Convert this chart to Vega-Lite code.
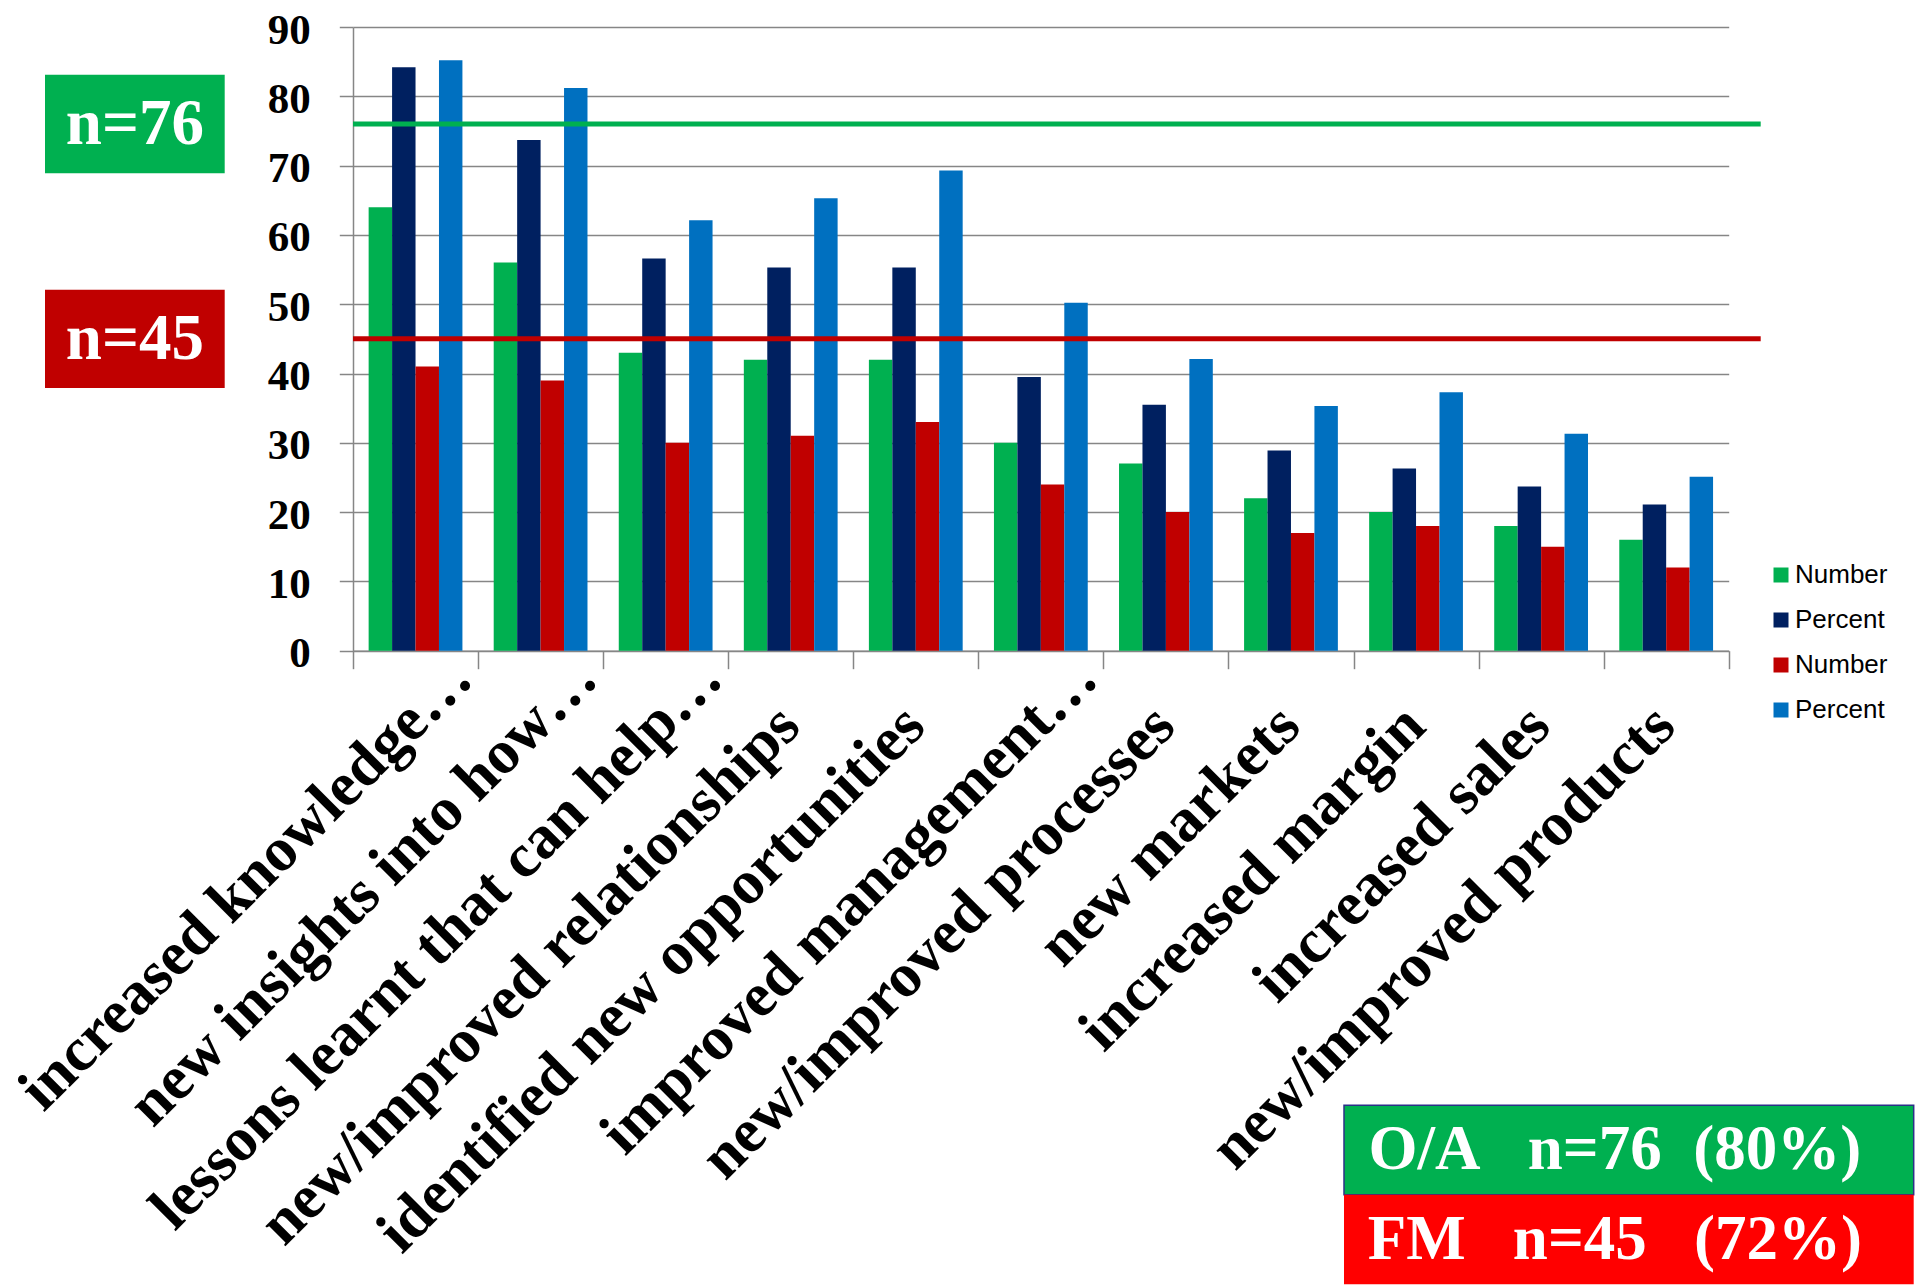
{
  "$schema": "https://vega.github.io/schema/vega-lite/v6.json",
  "background": "white",
  "padding": {"left": 7, "top": 9, "right": 0, "bottom": 0},
  "config": {
    "view": {"stroke": null},
    "font": "Liberation Serif"
  },
  "datasets": {
    "responses": [
      {"outcome": "increased knowledge…", "series": "Number (O/A)", "value": 64},
      {"outcome": "increased knowledge…", "series": "Percent (O/A)", "value": 84.2},
      {"outcome": "increased knowledge…", "series": "Number (FM)", "value": 41},
      {"outcome": "increased knowledge…", "series": "Percent (FM)", "value": 85.2},
      {"outcome": "new insights into how…", "series": "Number (O/A)", "value": 56},
      {"outcome": "new insights into how…", "series": "Percent (O/A)", "value": 73.7},
      {"outcome": "new insights into how…", "series": "Number (FM)", "value": 39},
      {"outcome": "new insights into how…", "series": "Percent (FM)", "value": 81.2},
      {"outcome": "lessons learnt that can help…", "series": "Number (O/A)", "value": 43},
      {"outcome": "lessons learnt that can help…", "series": "Percent (O/A)", "value": 56.6},
      {"outcome": "lessons learnt that can help…", "series": "Number (FM)", "value": 30},
      {"outcome": "lessons learnt that can help…", "series": "Percent (FM)", "value": 62.1},
      {"outcome": "new/improved relationships", "series": "Number (O/A)", "value": 42},
      {"outcome": "new/improved relationships", "series": "Percent (O/A)", "value": 55.3},
      {"outcome": "new/improved relationships", "series": "Number (FM)", "value": 31},
      {"outcome": "new/improved relationships", "series": "Percent (FM)", "value": 65.3},
      {"outcome": "identified new opportunities", "series": "Number (O/A)", "value": 42},
      {"outcome": "identified new opportunities", "series": "Percent (O/A)", "value": 55.3},
      {"outcome": "identified new opportunities", "series": "Number (FM)", "value": 33},
      {"outcome": "identified new opportunities", "series": "Percent (FM)", "value": 69.3},
      {"outcome": "improved management…", "series": "Number (O/A)", "value": 30},
      {"outcome": "improved management…", "series": "Percent (O/A)", "value": 39.5},
      {"outcome": "improved management…", "series": "Number (FM)", "value": 24},
      {"outcome": "improved management…", "series": "Percent (FM)", "value": 50.2},
      {"outcome": "new/improved processes", "series": "Number (O/A)", "value": 27},
      {"outcome": "new/improved processes", "series": "Percent (O/A)", "value": 35.5},
      {"outcome": "new/improved processes", "series": "Number (FM)", "value": 20},
      {"outcome": "new/improved processes", "series": "Percent (FM)", "value": 42.1},
      {"outcome": "new markets", "series": "Number (O/A)", "value": 22},
      {"outcome": "new markets", "series": "Percent (O/A)", "value": 28.9},
      {"outcome": "new markets", "series": "Number (FM)", "value": 17},
      {"outcome": "new markets", "series": "Percent (FM)", "value": 35.3},
      {"outcome": "increased margin", "series": "Number (O/A)", "value": 20},
      {"outcome": "increased margin", "series": "Percent (O/A)", "value": 26.3},
      {"outcome": "increased margin", "series": "Number (FM)", "value": 18},
      {"outcome": "increased margin", "series": "Percent (FM)", "value": 37.3},
      {"outcome": "increased sales", "series": "Number (O/A)", "value": 18},
      {"outcome": "increased sales", "series": "Percent (O/A)", "value": 23.7},
      {"outcome": "increased sales", "series": "Number (FM)", "value": 15},
      {"outcome": "increased sales", "series": "Percent (FM)", "value": 31.3},
      {"outcome": "new/improved products", "series": "Number (O/A)", "value": 16},
      {"outcome": "new/improved products", "series": "Percent (O/A)", "value": 21.1},
      {"outcome": "new/improved products", "series": "Number (FM)", "value": 12},
      {"outcome": "new/improved products", "series": "Percent (FM)", "value": 25.1}
    ],
    "samples": [
      {"group": "O/A", "n": 76, "share": 80, "tag": "n=76", "summary": "O/A\u00a0\u00a0\u00a0n=76\u00a0\u00a0(80%)"},
      {"group": "FM", "n": 45, "share": 72, "tag": "n=45", "summary": "FM\u00a0\u00a0\u00a0n=45\u00a0\u00a0\u00a0(72%)"}
    ]
  },
  "vconcat": [
    {
      "hconcat": [
        {
          "width": 179.7,
          "height": 623.7,
          "data": {"name": "samples"},
          "encoding": {
            "y": {
              "field": "n",
              "type": "quantitative",
              "scale": {"domain": [0, 90], "nice": false, "zero": true},
              "axis": null
            }
          },
          "layer": [
            {
              "mark": {
                "type": "point",
                "shape": "M-1,-0.547L1,-0.547L1,0.547L-1,0.547Z",
                "size": 32292,
                "filled": true,
                "opacity": 1,
                "strokeWidth": 0
              },
              "encoding": {
                "color": {
                  "condition": {"test": "datum.group === 'FM'", "value": "#C00000"},
                  "value": "#00B050"
                }
              }
            },
            {
              "mark": {
                "type": "text",
                "font": "Liberation Serif",
                "fontWeight": "bold",
                "fontSize": 65,
                "color": "#FFFFFF",
                "baseline": "middle",
                "align": "center"
              },
              "encoding": {"text": {"field": "tag", "type": "nominal"}}
            }
          ]
        },
        {
          "width": 1375.7,
          "height": 623.7,
          "layer": [
            {
              "data": {"name": "responses"},
              "mark": {"type": "bar"},
              "encoding": {
                "x": {
                  "field": "outcome",
                  "type": "nominal",
                  "sort": null,
                  "scale": {"paddingInner": 0, "paddingOuter": 0},
                  "axis": {
                    "title": null,
                    "domainColor": "#868686",
                    "domainWidth": 1.5,
                    "tickColor": "#868686",
                    "tickWidth": 1.5,
                    "tickSize": 18,
                    "tickBand": "extent",
                    "labelAngle": -45,
                    "labelAlign": "right",
                    "labelBaseline": "alphabetic",
                    "labelOffset": 59,
                    "labelPadding": 12.4,
                    "labelFont": "Liberation Serif",
                    "labelFontWeight": "bold",
                    "labelFontSize": 62,
                    "labelColor": "#000000",
                    "labelLimit": 3000,
                    "labelOverlap": false,
                    "labelExpr": "indexof(datum.label, '…') < 0 ? datum.label + '\u00a0\u00a0\u00a0\u00a0\u200a\u200b' : datum.label"
                  }
                },
                "xOffset": {
                  "field": "series",
                  "type": "nominal",
                  "sort": ["Number (O/A)", "Percent (O/A)", "Number (FM)", "Percent (FM)"],
                  "scale": {"paddingInner": 0, "paddingOuter": 0.667}
                },
                "y": {
                  "field": "value",
                  "type": "quantitative",
                  "scale": {"domain": [0, 90], "nice": false, "zero": true},
                  "axis": {
                    "title": null,
                    "values": [0, 10, 20, 30, 40, 50, 60, 70, 80, 90],
                    "grid": true,
                    "gridColor": "#868686",
                    "gridWidth": 1.5,
                    "domainColor": "#868686",
                    "domainWidth": 1.5,
                    "tickColor": "#868686",
                    "tickWidth": 1.5,
                    "tickSize": 13.7,
                    "labelPadding": 29,
                    "labelOffset": 3,
                    "labelFont": "Liberation Serif",
                    "labelFontWeight": "bold",
                    "labelFontSize": 43,
                    "labelColor": "#000000"
                  }
                },
                "color": {
                  "field": "series",
                  "type": "nominal",
                  "scale": {
                    "domain": ["Number (O/A)", "Percent (O/A)", "Number (FM)", "Percent (FM)"],
                    "range": ["#00B050", "#002060", "#C00000", "#0070C0"]
                  },
                  "legend": {
                    "title": null,
                    "orient": "none",
                    "legendX": 1415,
                    "legendY": 535,
                    "direction": "vertical",
                    "padding": 0,
                    "symbolType": "square",
                    "symbolSize": 225,
                    "symbolStrokeWidth": 0,
                    "labelFont": "Liberation Sans",
                    "labelFontSize": 26,
                    "labelColor": "#000000",
                    "labelOffset": 1,
                    "rowPadding": 19,
                    "labelExpr": "split(datum.label, ' ')[0]"
                  }
                }
              }
            },
            {
              "data": {"name": "samples"},
              "mark": {"type": "rule", "strokeWidth": 5, "xOffset": 32, "x2Offset": -97},
              "encoding": {
                "y": {"field": "n", "type": "quantitative"},
                "color": {
                  "condition": {"test": "datum.group === 'FM'", "value": "#C00000"},
                  "value": "#00B050"
                }
              }
            }
          ]
        }
      ],
      "spacing": 128,
      "bounds": "flush",
      "resolve": {"scale": {"color": "independent"}, "legend": {"color": "independent"}}
    },
    {
      "hconcat": [
        {
          "width": 1298.3,
          "height": 179,
          "data": {"values": []},
          "mark": {"type": "point"}
        },
        {
          "width": 569.7,
          "height": 179,
          "data": {"name": "samples"},
          "encoding": {
            "y": {
              "field": "group",
              "type": "nominal",
              "sort": ["O/A", "FM"],
              "scale": {"paddingInner": 0, "paddingOuter": 0},
              "axis": null
            }
          },
          "layer": [
            {
              "mark": {"type": "rect", "strokeWidth": 1.5},
              "encoding": {
                "color": {
                  "condition": {"test": "datum.group === 'FM'", "value": "#FF0000"},
                  "value": "#00B050"
                },
                "stroke": {
                  "condition": {"test": "datum.group === 'O/A'", "value": "#2B3087"},
                  "value": "transparent"
                }
              }
            },
            {
              "mark": {
                "type": "text",
                "font": "Liberation Serif",
                "fontWeight": "bold",
                "fontSize": 63,
                "color": "#FFFFFF",
                "baseline": "middle",
                "align": "center",
                "dx": -14
              },
              "encoding": {"text": {"field": "summary", "type": "nominal"}}
            }
          ]
        }
      ],
      "spacing": 0,
      "bounds": "flush"
    }
  ],
  "spacing": 1078.3,
  "bounds": "flush",
  "resolve": {"scale": {"color": "independent"}, "legend": {"color": "independent"}}
}
